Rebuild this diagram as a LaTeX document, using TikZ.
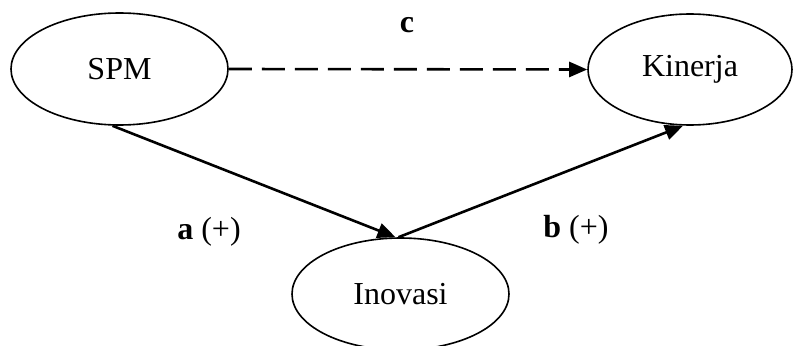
\documentclass[tikz,border=0pt]{standalone}
\usepackage{fontspec}
\setmainfont{Liberation Serif}
\usetikzlibrary{shapes.geometric,arrows.meta}
\tikzset{
  var/.style={draw, ellipse, line width=1.6pt, inner sep=0pt, font=\fontsize{32}{38}\selectfont},
  conn/.style={line width=2.6pt, -{Triangle[length=18pt,width=15pt]}},
  dashconn/.style={conn, dash pattern=on 23pt off 10pt},
  lab/.style={font=\fontsize{32}{38}\selectfont, inner sep=0pt}
}
\begin{document}
\begin{tikzpicture}[x=1pt,y=-1pt]
\useasboundingbox (0,0) rectangle (794,345);
\node[var, minimum width=217pt, minimum height=112pt] (spm) at (119.5,69) {SPM};
\node[var, minimum width=204pt, minimum height=111pt] (kin) at (690,69.5) {Kinerja};
\node[var, minimum width=217pt, minimum height=112pt] (ino) at (400.5,294) {Inovasi};
\draw[dashconn] (spm.east) -- (kin.west);
\draw[conn] ([xshift=-7pt]spm.south) -- ([xshift=-5pt]ino.north);
\draw[conn] ([xshift=-2pt]ino.north) -- ([xshift=-7pt]kin.south);
\node[lab] (lc) at (407,25) {\textbf{c}};
\node[lab] (la) at (209,232) {\textbf{a} (+)};
\node[lab] (lb) at (576,230) {\textbf{b} (+)};
\end{tikzpicture}
\end{document}
